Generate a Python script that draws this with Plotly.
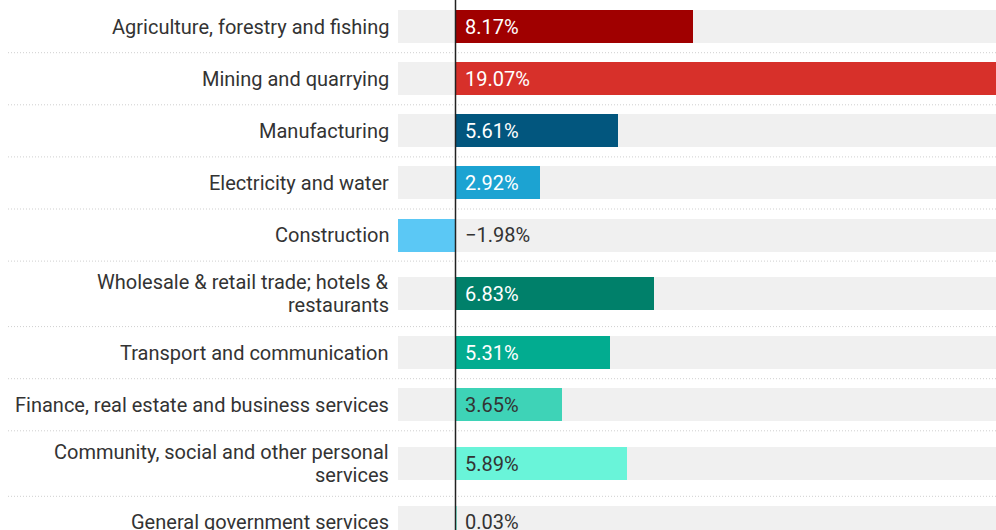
import plotly.graph_objects as go

# Real growth by sector, %
sectors = [
    "Agriculture, forestry and fishing",
    "Mining and quarrying",
    "Manufacturing",
    "Electricity and water",
    "Construction",
    "Wholesale & retail trade; hotels &<br>restaurants",
    "Transport and communication",
    "Finance, real estate and business services",
    "Community, social and other personal<br>services",
    "General government services",
]
growth = [8.17, 19.07, 5.61, 2.92, -1.98, 6.83, 5.31, 3.65, 5.89, 0.03]
bar_colors = [
    "#a00000", "#d7302a", "#02567e", "#1ca3d2", "#5bc8f5",
    "#00806a", "#02ac90", "#3ed3b7", "#69f4d9", "#8ff7e4",
]
label_colors = [
    "#ffffff", "#ffffff", "#ffffff", "#ffffff", "#333333",
    "#ffffff", "#ffffff", "#333333", "#333333", "#333333",
]

W, H = 996, 530
FONT = "Roboto"
FSIZE = 20
LINE_H = 23

# Row geometry (pixels): single-line rows and two-line rows
ROW_1 = 52.1
ROW_EXTRA = 13.4
BAR_H = 33
TOP = 0.6

heights = [ROW_1 + ROW_EXTRA * (s.count("<br>")) for s in sectors]
centers, bounds = [], []
y = TOP
for h in heights:
    centers.append(y + h / 2)
    y += h
    bounds.append(y)

# Horizontal scale: zero sits at x=455.5px, 29.05px per percentage point
PX_PER = 29.05
ZERO_PX = 455.5
x_range = [-ZERO_PX / PX_PER, (W - ZERO_PX) / PX_PER]
lo, hi = min(growth), max(growth)

fig = go.Figure()

# Grey track behind every bar
fig.add_trace(go.Bar(
    orientation="h", y=centers, x=[hi - lo] * len(sectors), base=[lo] * len(sectors),
    width=BAR_H, marker=dict(color="#f0f0f0", line=dict(width=0)),
    hoverinfo="skip", showlegend=False,
))

# Value bars
fig.add_trace(go.Bar(
    orientation="h", y=centers, x=growth, width=BAR_H,
    marker=dict(color=bar_colors, line=dict(width=0)),
    hoverinfo="skip", showlegend=False,
))

shapes = []
for b in bounds:
    shapes.append(dict(
        type="line", xref="paper", yref="y", x0=8 / W, x1=1, y0=b, y1=b,
        line=dict(color="#cfcfcf", width=1, dash="1px,2px"), layer="below",
    ))
shapes.append(dict(
    type="line", xref="x", yref="paper", x0=0, x1=0, y0=0, y1=1,
    line=dict(color="#222222", width=1.5), layer="above",
))

annotations = []
# Category labels, one annotation per line so the line spacing stays tight
for s, c in zip(sectors, centers):
    lines = s.split("<br>")
    n = len(lines)
    for i, ln in enumerate(lines):
        annotations.append(dict(
            xref="paper", yref="y", x=391 / W, y=c + (i - (n - 1) / 2) * LINE_H,
            text=ln, showarrow=False,
            xanchor="right", yanchor="middle", align="right",
            font=dict(family=FONT, size=FSIZE, color="#333333"),
        ))
for v, c, col in zip(growth, centers, label_colors):
    txt = f"{v:.2f}%".replace("-", "\u2212")
    annotations.append(dict(
        xref="x", yref="y", x=0, y=c, text=txt, showarrow=False,
        xanchor="left", yanchor="middle", xshift=7,
        font=dict(family=FONT, size=FSIZE, color=col),
    ))

fig.update_layout(
    width=W, height=H,
    margin=dict(l=0, r=0, t=0, b=0),
    paper_bgcolor="white", plot_bgcolor="white",
    barmode="overlay", bargap=0,
    xaxis=dict(range=x_range, visible=False, showgrid=False, zeroline=False, fixedrange=True),
    yaxis=dict(range=[H, 0], visible=False, showgrid=False, zeroline=False, fixedrange=True),
    shapes=shapes, annotations=annotations,
    font=dict(family=FONT),
    hovermode=False,
)

fig.write_html("out.html", config={"displayModeBar": False})
